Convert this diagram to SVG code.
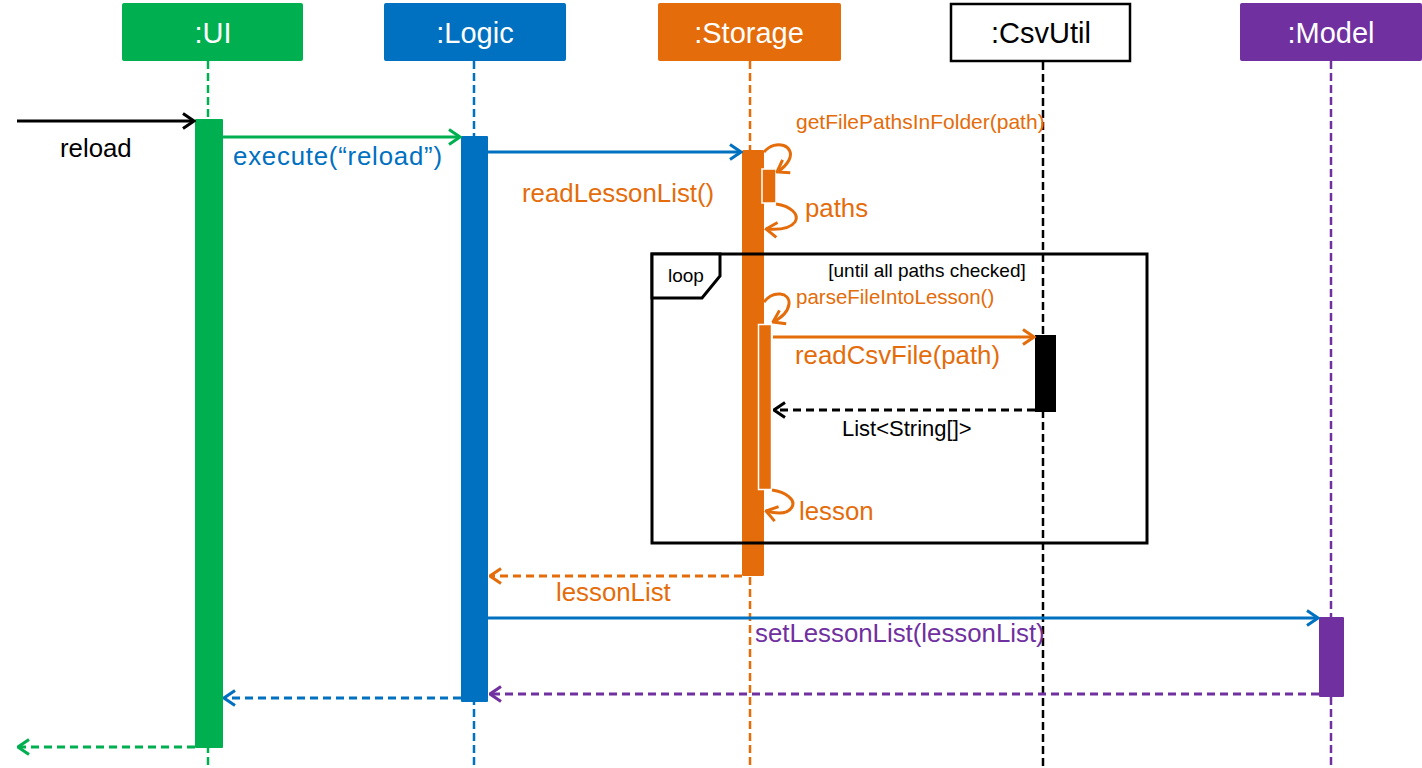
<svg xmlns="http://www.w3.org/2000/svg" width="1422" height="768" viewBox="0 0 1422 768">
<style>
text{font-family:"Liberation Sans",Arial,sans-serif}
.hdr{font-size:29px;text-anchor:middle;fill:#fff}
.lbl{font-size:25.8px}
.sm{font-size:21px}
.life{fill:none;stroke-width:2.5;stroke-dasharray:8,4}
.msg{fill:none;stroke-width:3}
.ret{fill:none;stroke-width:3;stroke-dasharray:8,5}
.g{stroke:#00B050}.b{stroke:#0070C0}.o{stroke:#E46C0A}.p{stroke:#7030A0}.k{stroke:#000}
.tg{fill:#00B050}.tb{fill:#0070C0}.to{fill:#E46C0A}.tp{fill:#7030A0}.tk{fill:#000}
</style>
<defs>
<marker id="ak" markerUnits="userSpaceOnUse" viewBox="0 0 14 18" refX="12.5" refY="9" markerWidth="14" markerHeight="18" orient="auto"><path d="M1.5,1.5 L12.5,9 L1.5,16.5" fill="none" stroke="#000" stroke-width="3"/></marker>
<marker id="ag" markerUnits="userSpaceOnUse" viewBox="0 0 14 18" refX="12.5" refY="9" markerWidth="14" markerHeight="18" orient="auto"><path d="M1.5,1.5 L12.5,9 L1.5,16.5" fill="none" stroke="#00B050" stroke-width="3"/></marker>
<marker id="ab" markerUnits="userSpaceOnUse" viewBox="0 0 14 18" refX="12.5" refY="9" markerWidth="14" markerHeight="18" orient="auto"><path d="M1.5,1.5 L12.5,9 L1.5,16.5" fill="none" stroke="#0070C0" stroke-width="3"/></marker>
<marker id="ao" markerUnits="userSpaceOnUse" viewBox="0 0 14 18" refX="12.5" refY="9" markerWidth="14" markerHeight="18" orient="auto"><path d="M1.5,1.5 L12.5,9 L1.5,16.5" fill="none" stroke="#E46C0A" stroke-width="3"/></marker>
<marker id="ap" markerUnits="userSpaceOnUse" viewBox="0 0 14 18" refX="12.5" refY="9" markerWidth="14" markerHeight="18" orient="auto"><path d="M1.5,1.5 L12.5,9 L1.5,16.5" fill="none" stroke="#7030A0" stroke-width="3"/></marker>
</defs>
<rect width="1422" height="768" fill="#fff"/>

<g id="ui">
<rect x="122" y="3" width="181" height="58" rx="2" fill="#00B050"/>
<text class="hdr" x="213" y="43">:UI</text>
<line class="life g" x1="208" y1="61" x2="208" y2="768"/>
<rect x="195" y="119" width="28" height="629" rx="1" fill="#00B050"/>
</g>

<g id="logic">
<rect x="384" y="3" width="182" height="58" rx="2" fill="#0070C0"/>
<text class="hdr" x="475" y="43">:Logic</text>
<line class="life b" x1="474" y1="61" x2="474" y2="768"/>
<rect x="461" y="136" width="27" height="566" rx="1" fill="#0070C0"/>
</g>

<g id="storage">
<rect x="658" y="3" width="183" height="58" rx="2" fill="#E46C0A"/>
<text class="hdr" x="749" y="43">:Storage</text>
<line class="life o" x1="750" y1="61" x2="750" y2="768"/>
<rect x="742" y="150" width="22" height="426" rx="1.5" fill="#E46C0A"/>
<rect x="762" y="169" width="14" height="34" fill="#E46C0A" stroke="#fff" stroke-width="1.5"/>
<rect x="758.5" y="324.5" width="13" height="165" fill="#E46C0A" stroke="#fff" stroke-width="1.5"/>
</g>

<g id="csvutil">
<rect x="951" y="4" width="179" height="57" fill="#fff" stroke="#000" stroke-width="2.5"/>
<text class="hdr" x="1041" y="43" style="fill:#000">:CsvUtil</text>
<line class="life k" x1="1043" y1="62" x2="1043" y2="768"/>
<rect x="1035" y="335" width="21" height="77" fill="#000"/>
</g>

<g id="model">
<rect x="1240" y="3" width="182" height="58" rx="2" fill="#7030A0"/>
<text class="hdr" x="1331" y="43">:Model</text>
<line class="life p" x1="1331" y1="61" x2="1331" y2="768"/>
<rect x="1319" y="617" width="25" height="80" rx="1" fill="#7030A0"/>
</g>

<g id="loop">
<rect x="652" y="254" width="495" height="289" fill="none" stroke="#000" stroke-width="3"/>
<polygon points="652,254 720,254 720,276 702,298 652,298" fill="#fff" stroke="#000" stroke-width="3"/>
<text x="668" y="282" font-size="19" fill="#000">loop</text>
<text x="927" y="277" font-size="19" fill="#000" text-anchor="middle">[until all paths checked]</text>
</g>

<g id="connectors">
<line class="msg k" x1="17" y1="121" x2="194" y2="121" marker-end="url(#ak)"/>
<text class="lbl tk" x="60" y="157">reload</text>

<line class="msg g" x1="223" y1="137" x2="460" y2="137" marker-end="url(#ag)"/>
<text class="lbl tb" x="233" y="165" textLength="209">execute(“reload”)</text>

<line class="msg b" x1="488" y1="152" x2="741" y2="152" marker-end="url(#ab)"/>
<text class="lbl to" x="522" y="202">readLessonList()</text>

<path class="msg o" d="M764,152 C776,138 796,146 789,160 C786,166 782,169 777,172" marker-end="url(#ao)"/>
<text class="sm to" x="796" y="129">getFilePathsInFolder(path)</text>

<path class="msg o" d="M776,204 C790,206 800,214 795,222 C790,229 778,230 766,229" marker-end="url(#ao)"/>
<text class="lbl to" x="805" y="217">paths</text>

<path class="msg o" d="M764,302 C773,290 790,292 789,304 C788,312 781,318 773,322" marker-end="url(#ao)"/>
<text class="to" x="796" y="304" font-size="20.5">parseFileIntoLesson()</text>

<line class="msg o" x1="773" y1="337" x2="1034" y2="337" marker-end="url(#ao)"/>
<text class="lbl to" x="795" y="364">readCsvFile(path)</text>

<line class="ret k" x1="1035" y1="410" x2="774" y2="410" marker-end="url(#ak)"/>
<text class="tk" x="842" y="436" font-size="22">List&lt;String[]&gt;</text>

<path class="msg o" d="M772,490 C786,492 796,500 792,507 C788,514 777,514 766,511" marker-end="url(#ao)"/>
<text class="lbl to" x="799" y="520">lesson</text>

<line class="ret o" x1="742" y1="576" x2="490" y2="576" marker-end="url(#ao)"/>
<text class="lbl to" x="556" y="601">lessonList</text>

<line class="msg b" x1="488" y1="618" x2="1318" y2="618" marker-end="url(#ab)"/>
<text class="lbl tp" x="755" y="642">setLessonList(lessonList)</text>

<line class="ret p" x1="1319" y1="694" x2="490" y2="694" marker-end="url(#ap)"/>
<line class="ret b" x1="461" y1="698" x2="224" y2="698" marker-end="url(#ab)"/>
<line class="ret g" x1="195" y1="747" x2="18" y2="747" marker-end="url(#ag)"/>
</g>
</svg>
